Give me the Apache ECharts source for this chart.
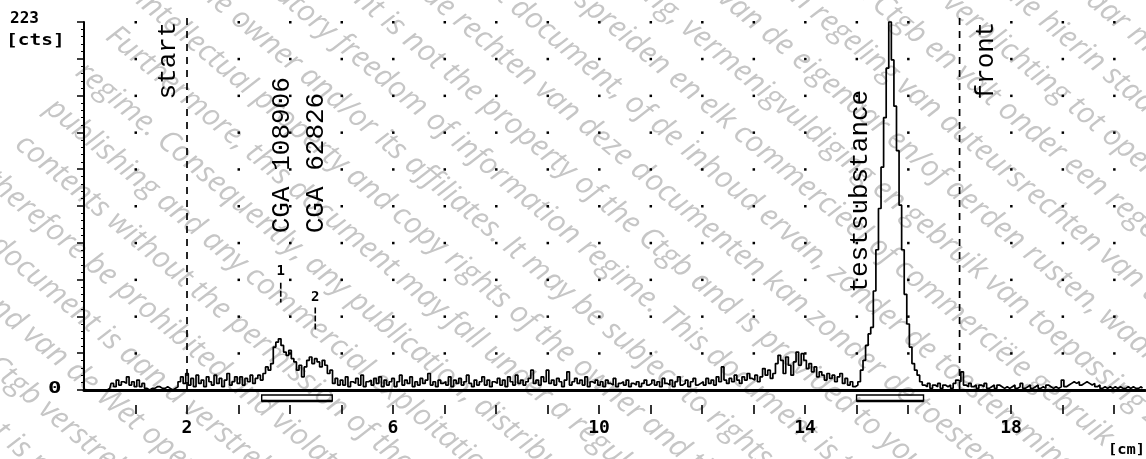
<!DOCTYPE html>
<html><head><meta charset="utf-8">
<script src="https://cdn.jsdelivr.net/npm/echarts@6/dist/echarts.min.js"></script>
<style>html,body{margin:0;padding:0;background:#fff;}#c{width:1146px;height:459px;}</style>
</head><body><div id="c"></div>
<script>
// ---- data ----
const xStep = 0.05;              // cm per channel
const counts = [
  0,0,0,0,0,0,0,0,0,0, 1,4,2,6,3,5,4,8,3,5,
  2,6,2,4,1,0,1,1,2,2, 1,1,2,1,0,1,2,5,8,4,
  10,3,7,2,9,4,6,2,8,5, 3,9,4,7,2,6,10,3,5,8,
  4,8,3,7,5,9,4,7,9,6, 10,14,12,16,26,29,31,27,23,21,
  24,19,17,12,15,8,14,18,20,16, 19,17,14,18,15,10,12,4,7,3,
  6,3,8,2,5,4,7,3,9,2, 5,6,3,7,4,8,2,6,3,5,
  7,2,5,9,3,6,4,8,2,5, 3,7,4,6,10,3,5,2,6,4,
  5,3,8,2,6,4,7,3,5,9, 4,2,6,3,5,8,3,6,2,5,
  4,7,3,6,2,8,5,3,9,4, 6,3,5,7,12,4,6,3,8,5,
  12,4,6,3,7,5,2,6,11,3, 5,7,4,6,3,8,2,5,4,6,
  3,5,2,6,4,3,7,2,4,5, 3,6,2,4,3,5,2,4,6,3,
  4,6,3,5,2,7,4,3,6,2, 5,8,3,4,6,2,5,7,3,4,
  5,3,7,4,6,3,8,5,14,6, 4,7,5,9,6,4,8,6,10,7,
  6,9,5,8,13,9,12,7,10,16, 21,18,10,20,15,9,17,23,15,22,
  18,13,16,11,14,8,11,9,6,10, 7,9,5,8,10,4,7,3,5,2,
  3,5,12,18,27,34,38,60,85,110, 135,165,195,223,200,172,145,112,85,58,
  40,26,16,12,9,5,3,2,4,1, 3,2,4,1,3,2,3,1,4,6,
  5,11,3,2,4,2,3,1,3,2, 4,1,2,3,1,3,2,1,2,1,
  2,3,1,2,4,1,2,3,1,2, 3,1,2,1,3,2,1,2,1,2,
  6,2,3,4,5,4,5,3,4,5, 4,3,4,2,3,1,2,1,2,1,
  2,1,2,1,1,2,1,2,1,1,2,1
];
const xTickValues = [1,2,3,4,5,6,7,8,9,10,11,12,13,14,15,16,17,18,19,20];
const xLabelValues = [2,6,10,14,18];
const yMax = 223;
const yStep = 22.3;
const startCm = 2, frontCm = 17;
const peakNames = ['1','2'];
const peakCm = [3.82, 4.49];
const zoneFrom = [3.45, 15.0];
const zoneTo = [4.82, 16.3];
const compoundNames = ['CGA 108906','CGA 62826'];
const testName = 'testsubstance';
const testPeakCm = 15.65;

// background document watermark (diagonal grey text), top-right line first
const watermarkLines = [
  'Dit document is aan u verstrekt omdat gegevens openbaar moeten worden gemaakt',
  'op grond van de Wet open overheid. De gegevens die hierin staan hebben worden',
  'door het Ctgb verstrekt vanwege een wettelijke verplichting tot openbaarmaking.',
  'Dit document is niet het eigendom van het Ctgb en valt onder een regeling omtrent',
  'gegevensbescherming, waarop ook een regeling van auteursrechten van toepassing is.',
  'Op dit document kunnen rechten van de eigenaar en/of derden rusten, waarop',
  'de regels voor openbaarmaking, vermenigvuldiging en gebruik van toepassing zijn.',
  'Het openbaar maken, verspreiden en elk commercieel of commerciële gebruik',
  'en het leveren van dit document, of de inhoud ervan, zonder de toestemming van de rechthebbende is verboden.',
  'Het gebruik van de rechten van deze documenten kan zonder de toestemming',
  'This document is not the property of the Ctgb and is provided to you under',
  'a mandatory freedom of information regime. This document is the property',
  'of the owner and/or its affiliates. It may be subject to rights such as',
  'intellectual property and copy rights of the owner and third parties.',
  'Furthermore, this document may fall under a regulatory data protection',
  'regime. Consequently, any publication, distribution, reproduction and/or',
  'publishing and any commercial exploitation and use of this document or its',
  'contents without the permission of the owner of this document may',
  'therefore be prohibited and violate the rights of its owner.',
  'Dit document is aan u verstrekt omdat gegevens openbaar moeten worden gemaakt',
  'op grond van de Wet open overheid. De gegevens die hierin staan hebben worden',
  'door het Ctgb verstrekt vanwege een wettelijke verplichting tot openbaarmaking.',
  'Dit document is niet het eigendom van het Ctgb en valt onder een regeling omtrent'
];

const seriesData = counts.map((v, i) => [+(i * xStep).toFixed(2), v]);

const chart = echarts.init(document.getElementById('c'), null, {renderer: 'canvas'});
const MONO = '"Liberation Mono", "DejaVu Sans Mono", monospace';
const BMONO = '"DejaVu Sans Mono", monospace';

function renderDecor(params, api) {
  const ch = [];
  for (const xv of xTickValues) {
    if (xv === startCm || xv === frontCm) continue;
    for (let k = 1; k <= 10; k++) {
      const p = api.coord([xv, k * yStep]);
      ch.push({type: 'rect', shape: {x: p[0] - 1, y: p[1] - 1, width: 2.5, height: 2.5}, style: {fill: '#000'}});
    }
  }
  for (const xv of [startCm, frontCm]) {
    const a = api.coord([xv, yMax]), b = api.coord([xv, 0]);
    ch.push({type: 'line', shape: {x1: a[0], y1: a[1] - 4, x2: b[0], y2: b[1]},
      style: {stroke: '#000', lineWidth: 1.7, lineDash: [7, 6]}});
  }
  const rot = (txt, x, y) => ({type: 'text', x: x, y: y, rotation: Math.PI / 2,
    style: {text: txt, font: '26px ' + MONO, fill: '#000', align: 'left', verticalAlign: 'middle'}});
  let p = api.coord([startCm, 176]);
  ch.push(rot('start', p[0] - 19, p[1]));
  p = api.coord([frontCm, 176]);
  ch.push(rot('front', p[0] + 27, p[1]));
  for (let i = 0; i < compoundNames.length; i++) {
    p = api.coord([peakCm[i], 95]);
    ch.push(rot(compoundNames[i], p[0] + 1, p[1]));
  }
  p = api.coord([testPeakCm, 59]);
  ch.push(rot(testName, p[0] - 30, p[1]));
  const markY = [[72, 65, 53], [56, 50, 36]];
  for (let i = 0; i < peakNames.length; i++) {
    const t = api.coord([peakCm[i], markY[i][0]]);
    const l1 = api.coord([peakCm[i], markY[i][1]]);
    const l2 = api.coord([peakCm[i], markY[i][2]]);
    ch.push({type: 'text', x: t[0], y: t[1], style: {text: peakNames[i], font: 'bold 14px ' + BMONO, fill: '#000', align: 'center', verticalAlign: 'middle'}});
    ch.push({type: 'line', shape: {x1: l1[0], y1: l1[1], x2: l2[0], y2: l2[1]}, style: {stroke: '#000', lineWidth: 1.6, lineDash: [6, 2]}});
  }
  for (let i = 0; i < zoneFrom.length; i++) {
    const a = api.coord([zoneFrom[i], 0]), b = api.coord([zoneTo[i], 0]);
    ch.push({type: 'rect', shape: {x: a[0], y: a[1] + 5, width: b[0] - a[0], height: 6},
      style: {fill: 'none', stroke: '#000', lineWidth: 1.4}});
    ch.push({type: 'line', shape: {x1: a[0], y1: a[1] + 11, x2: b[0], y2: b[1] + 11},
      style: {stroke: '#000', lineWidth: 2.4}});
  }
  return {type: 'group', children: ch};
}

// watermark text lines: parallel diagonals, left-aligned along a common margin
const WM_ANGLE = 40 * Math.PI / 180;
const WM_GAP = 47;
const wmFirstK = -14;
const wmGraphics = watermarkLines.map((txt, i) => {
  const k = wmFirstK + i;
  const x = 110 - Math.sin(WM_ANGLE) * WM_GAP * k;
  const y = 32 + Math.cos(WM_ANGLE) * WM_GAP * k;
  return {type: 'text', x: x, y: y, rotation: -WM_ANGLE, silent: true, z: -10,
    style: {text: txt, font: 'italic 30px "Open Sans", "DejaVu Sans", sans-serif', fill: '#c6c6c6',
      align: 'left', verticalAlign: 'middle'}};
});

const option = {
  animation: false,
  backgroundColor: '#fff',
  grid: {left: 84, right: 1, top: 22, bottom: 69, containLabel: false, outerBoundsMode: 'none'},
  xAxis: [
    {type: 'value', min: 0, max: 20.6, interval: 1,
      axisLine: {show: true, onZero: true, lineStyle: {color: '#000', width: 3}},
      axisTick: {show: false}, axisLabel: {show: false}, splitLine: {show: false}},
    {type: 'value', min: 0, max: 20.6, interval: 1, position: 'bottom', offset: 15,
      axisLine: {show: false},
      axisTick: {show: true, length: 9, customValues: xTickValues, lineStyle: {color: '#000', width: 1.6}},
      axisLabel: {show: true, customValues: xLabelValues, margin: 14, color: '#000',
        fontFamily: BMONO, fontWeight: 'bold', fontSize: 18,
        formatter: v => xLabelValues.includes(Math.round(v * 100) / 100) ? String(v) : ''},
      splitLine: {show: false}}
  ],
  yAxis: {type: 'value', min: 0, max: yMax, interval: yStep,
    axisLine: {show: true, lineStyle: {color: '#000', width: 2}},
    axisTick: {show: true, length: 7, lineStyle: {color: '#000', width: 1.5}},
    minorTick: {show: true, splitNumber: 5, length: 3, lineStyle: {color: '#000', width: 1}},
    axisLabel: {show: false}, splitLine: {show: false}},
  graphic: {elements: wmGraphics.concat([
    {type: 'text', left: 10, top: 11, z: 10, style: {text: String(yMax), font: 'bold 16px ' + BMONO, fill: '#000'}},
    {type: 'text', left: 6, top: 34, z: 10, scaleX: 1.3, style: {text: '[cts]', font: 'bold 15px ' + BMONO, fill: '#000'}},
    {type: 'text', left: 48, top: 381, z: 10, scaleX: 1.4, style: {text: '0', font: 'bold 16px ' + BMONO, fill: '#000'}},
    {type: 'text', right: 1, top: 443, z: 10, scaleX: 1.1, style: {text: '[cm]', font: 'bold 14px ' + BMONO, fill: '#000'}}
  ])},
  series: [
    {type: 'line', data: seriesData, xAxisIndex: 0, yAxisIndex: 0, symbol: 'none', step: 'middle',
      lineStyle: {color: '#000', width: 1.7}, clip: false, z: 3},
    {type: 'custom', data: [[0, 0]], xAxisIndex: 0, yAxisIndex: 0, renderItem: renderDecor, clip: false, silent: true, z: 2}
  ]
};
chart.setOption(option);
</script>
</body></html>
